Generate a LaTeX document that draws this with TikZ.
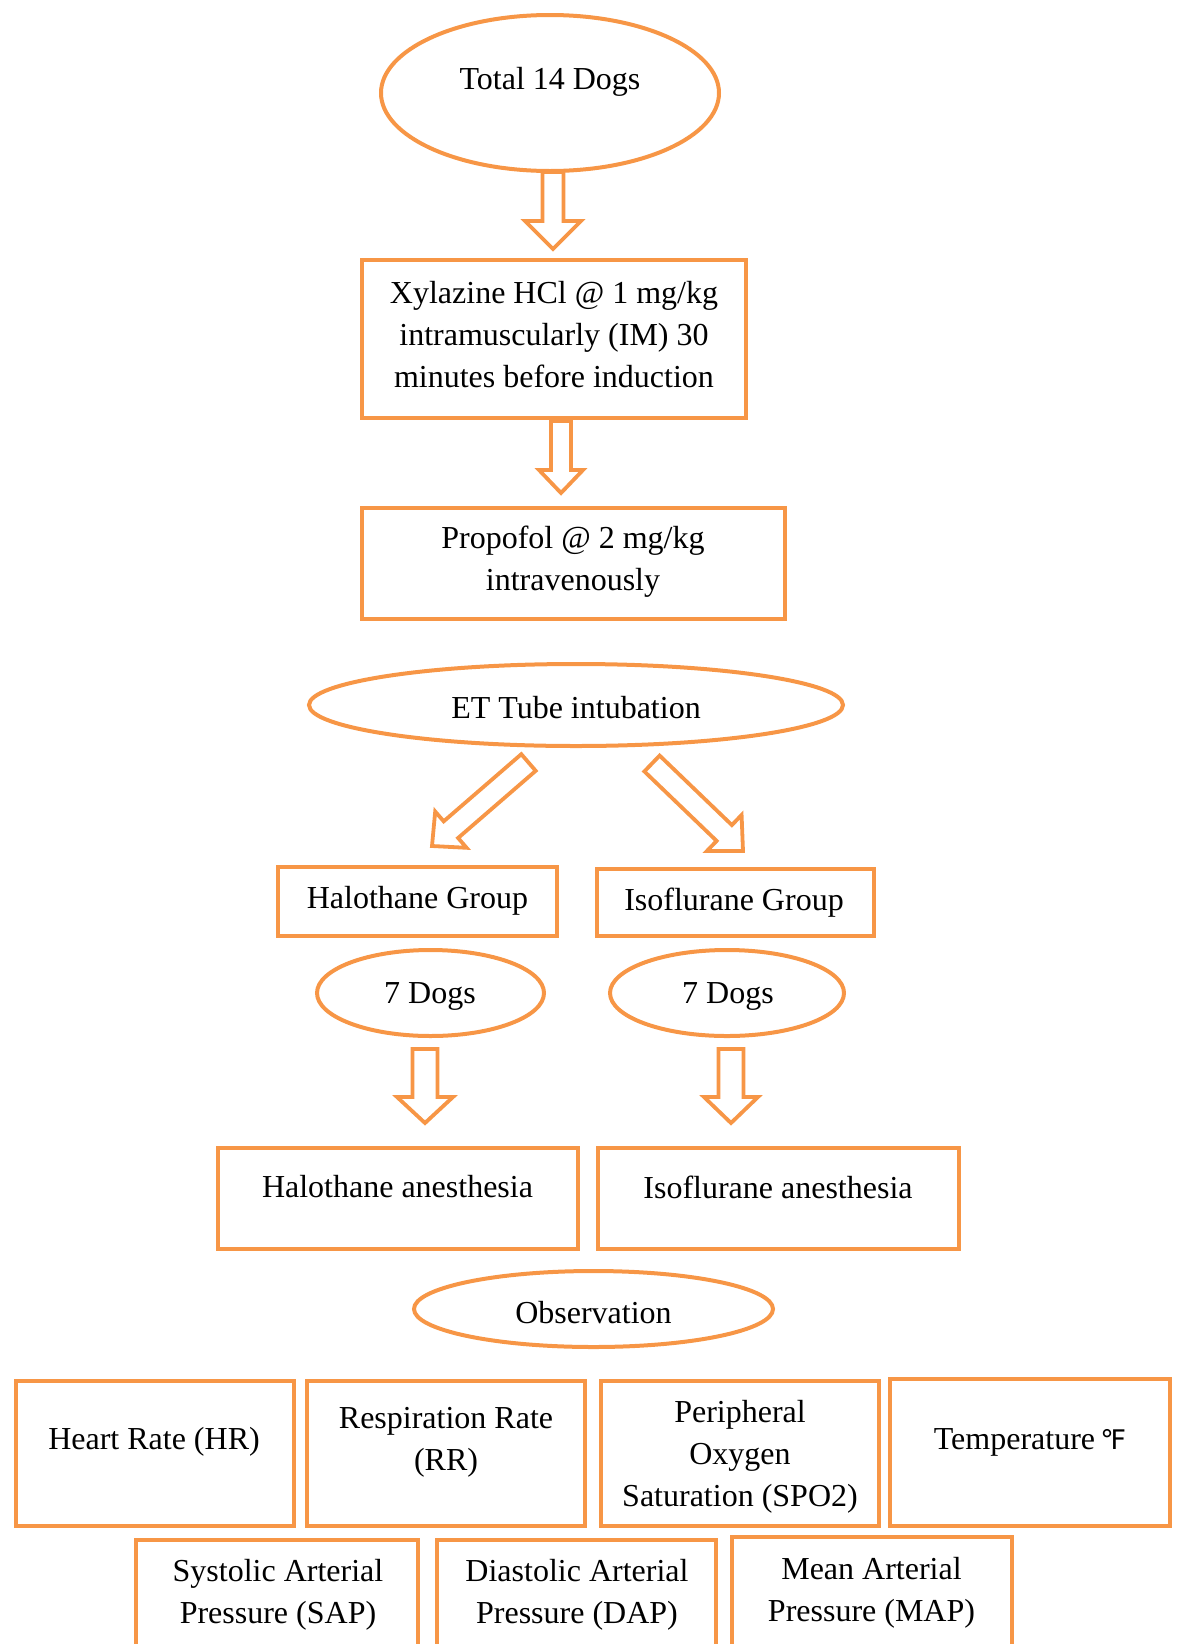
\documentclass[tikz,border=0pt]{standalone}
\usepackage{fontspec}
\setmainfont{Liberation Serif}
\newfontfamily\djv{DejaVu Sans}
\usetikzlibrary{shapes.geometric,calc}
\definecolor{org}{HTML}{F79646}
\tikzset{
 box/.style={draw=org, line width=4pt, rectangle, inner sep=0pt},
 oval/.style={draw=org, line width=4pt, ellipse, inner sep=0pt},
 txt/.style={inner sep=0pt, align=center, yshift=-3pt, font=\fontsize{32}{42}\selectfont},
 barrow/.style={draw=org, line width=3.8pt, line join=miter, fill=white}
}
\newcommand\blockarr[5]{%
 \coordinate (#1H) at ($(#2)!#5!(#1)$);
 \draw[barrow] ($(#1)!#3!90:(#2)$) -- ($(#1H)!#3!90:(#2)$) -- ($(#1H)!#4!90:(#2)$) -- (#2) -- ($(#1H)!#4!-90:(#2)$) -- ($(#1H)!#3!-90:(#2)$) -- ($(#1)!#3!-90:(#2)$) -- cycle;}
\begin{document}
\begin{tikzpicture}[x=1pt,y=-1pt]
\useasboundingbox (0,0) rectangle (1181,1644);
\clip (0,0) rectangle (1181,1644);
% arrows
\coordinate (a1s) at (553,172); \coordinate (a1e) at (553,249);
\blockarr{a1s}{a1e}{10.5pt}{28pt}{28pt}
\coordinate (a2s) at (561,421); \coordinate (a2e) at (561,493);
\blockarr{a2s}{a2e}{10pt}{22pt}{23pt}
\coordinate (a3s) at (528.5,762.5); \coordinate (a3e) at (432,846);
\blockarr{a3s}{a3e}{11pt}{24pt}{25pt}
\coordinate (a4s) at (652,763.5); \coordinate (a4e) at (743,851);
\blockarr{a4s}{a4e}{11pt}{25pt}{26pt}
\coordinate (a5s) at (425,1049); \coordinate (a5e) at (425,1123);
\blockarr{a5s}{a5e}{12.5pt}{28pt}{26pt}
\coordinate (a6s) at (731,1049); \coordinate (a6e) at (731,1123);
\blockarr{a6s}{a6e}{12.5pt}{27pt}{26pt}
% shapes
\node[oval, minimum width=338pt, minimum height=156pt] (tot) at (550,93) {};
\node[txt] (totT) at (550,79) {Total 14 Dogs};
\node[box, minimum width=384pt, minimum height=158pt] (xyl) at (554,339) {};
\node[txt] (xylT) at (554,332) {Xylazine HCl @ 1 mg/kg\\intramuscularly (IM) 30\\minutes before induction};
\node[box, minimum width=423pt, minimum height=111pt] (pro) at (573.5,563.5) {};
\node[txt] (proT) at (573,558.5) {Propofol @ 2 mg/kg\\intravenously};
\node[oval, minimum width=534pt, minimum height=82pt] (et) at (576,705) {};
\node[txt] (etT) at (576,705) {ET Tube intubation};
\node[box, minimum width=279pt, minimum height=69pt] (halg) at (417.5,901.5) {};
\node[txt] (halgT) at (417.5,898) {Halothane Group};
\node[box, minimum width=277pt, minimum height=67pt] (isog) at (735.5,902.5) {};
\node[txt] (isogT) at (734,900) {Isoflurane Group};
\node[oval, minimum width=227pt, minimum height=86pt] (d7a) at (430.5,993) {};
\node[txt] (d7aT) at (430,993) {7 Dogs};
\node[oval, minimum width=234pt, minimum height=86pt] (d7b) at (727,993) {};
\node[txt] (d7bT) at (728,993) {7 Dogs};
\node[box, minimum width=360pt, minimum height=101pt] (hala) at (398,1198.5) {};
\node[txt] (halaT) at (397.5,1184) {Halothane anesthesia};
\node[box, minimum width=361pt, minimum height=101pt] (isoa) at (778.5,1198.5) {};
\node[txt] (isoaT) at (778,1184) {Isoflurane anesthesia};
\node[oval, minimum width=359pt, minimum height=76pt] (obs) at (593.5,1309) {};
\node[txt] (obsT) at (593.5,1310) {Observation};
\node[box, minimum width=278pt, minimum height=145pt] (hr) at (155,1453.5) {};
\node[txt] (hrT) at (154,1439) {Heart Rate (HR)};
\node[box, minimum width=278pt, minimum height=145pt] (rr) at (446,1453.5) {};
\node[txt] (rrT) at (446,1439) {Respiration Rate\\(RR)};
\node[box, minimum width=278pt, minimum height=145pt] (spo) at (740,1453.5) {};
\node[txt] (spoT) at (740,1454) {Peripheral\\Oxygen\\Saturation (SPO2)};
\node[box, minimum width=280pt, minimum height=147pt] (tmp) at (1030,1452.5) {};
\node[txt] (tmpT) at (1030,1439) {Temperature\,{\djv\fontsize{27}{30}\selectfont ℉}};
\node[box, minimum width=282pt, minimum height=200pt] (sap) at (277,1640) {};
\node[txt] (sapT) at (278,1592) {Systolic Arterial\\Pressure (SAP)};
\node[box, minimum width=279pt, minimum height=200pt] (dap) at (576.5,1640) {};
\node[txt] (dapT) at (577,1592) {Diastolic Arterial\\Pressure (DAP)};
\node[box, minimum width=280pt, minimum height=200pt] (map) at (872,1637) {};
\node[txt] (mapT) at (871.5,1590) {Mean Arterial\\Pressure (MAP)};
\end{tikzpicture}
\end{document}
